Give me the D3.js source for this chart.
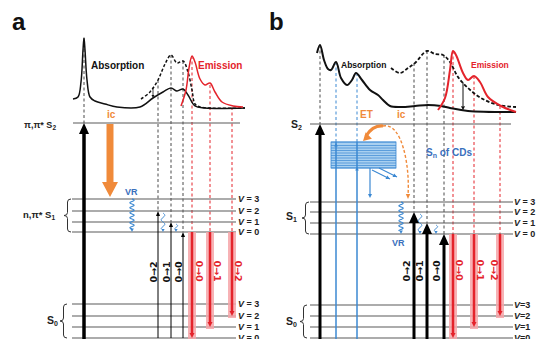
<!DOCTYPE html>
<html>
<head>
<meta charset="utf-8">
<script src="https://cdn.jsdelivr.net/npm/d3@7"></script>
<style>
  body { margin: 0; background: #fff; }
  svg { display: block; font-family: 'Liberation Sans', Arial, sans-serif; font-weight: bold; }
</style>
</head>
<body>
<svg id="chart"></svg>
<script>
// ---- data (x in arbitrary wavelength units, y in intensity / energy units) ----
const absSolidA = [[3,14],[8,16],[11,31],[13,63],[14,75],[15,63],[17,33],[20,16],[25,12],[35,9],[47,6],[70,6],[83,15],[93,21],[101,25],[107,22],[113,24],[118,18],[125,7],[135,5],[175,5]];
const absDashA = [[71,14],[80,21],[88,33],[95,49],[101,58],[107,50],[113,52],[118,41],[122,23],[125,9],[130,6],[175,5]];
const emisA = [[111,7],[116,23],[119,45],[122,57],[125,51],[130,34],[135,28],[140,30],[145,21],[152,11],[163,7],[173,6]];

const absSolidB = [[12,60],[15,68],[19,53],[23,44],[26,43],[31,51],[36,35],[42,28],[47,33],[51,40],[57,33],[65,23],[73,18],[78,13],[85,7],[96,6],[110,7],[123,8],[136,7],[145,5],[163,2],[211,1]];
const absDashB = [[86,45],[95,40],[103,45],[110,50],[122,62],[130,59],[138,58],[145,51],[153,36],[163,25],[176,15],[193,8],[211,6]];
const emisB = [[133,3],[140,15],[145,43],[148,62],[151,58],[158,40],[163,33],[169,37],[175,31],[183,16],[196,7],[211,1]];

// energy levels
const s0A = [0, 11, 22, 34];
const s1A = [106, 116, 127, 139];
const s2A = 215;
const s0B = [0, 11, 22, 33];
const s1B = [104, 115, 126, 136];
const s2B = 214;
const snB = [170, 172.5, 175, 177.5, 180, 182.5, 185, 187.5, 190, 192.5, 196];

// transitions
const exciteA = { x: 14, top: 75 };
const exciteB = { x: 15, top: 68 };
const absXA = [88, 101, 113], absTopA = [33, 58, 52];
const absXB = [109, 122, 139], absTopB = [50, 62, 58];
const emXA = [122, 140, 162], emTopA = [57, 28, 6];
const emXB = [148, 169, 195], emTopB = [62, 37, 7];
const blueXB = [31, 52], blueTopB = [51, 40];
const absLabels = ['0\u21922', '0\u21921', '0\u21920'];
const emLabels = ['0\u21920', '0\u21921', '0\u21922'];
const vLabels = ['0', '1', '2', '3'];

// ---- scales ----
const xA = d3.scaleLinear().domain([0, 200]).range([70, 270]);
const xB = d3.scaleLinear().domain([0, 215]).range([305, 520]);
const yE = d3.scaleLinear().domain([0, 215]).range([338, 123]);
const yI = d3.scaleLinear().domain([0, 75]).range([113, 38]);

const C = { line: '#5a5a5a', dash: '#4a4a4a', red: '#e4232b', glow: '#f6a5a8', orange: '#f08a3a',
            blue: '#3b88d2', blueText: '#3a70bd', box: '#a9d0f0' };

const svg = d3.select('#chart').attr('width', 537).attr('height', 339);

function arrow(g, x, y0, y1, o) {
    const dir = Math.sign(y1 - y0);
    const yb = y1 - dir * o.hl;
    if (o.glow) {
        g.append('line').attr('x1', x).attr('x2', x).attr('y1', y0).attr('y2', y1 + dir * 2)
            .attr('stroke', C.glow).attr('stroke-width', o.glow).attr('stroke-opacity', 0.85);
    }
    g.append('line').attr('x1', x).attr('x2', x).attr('y1', y0).attr('y2', yb)
        .attr('stroke', o.color).attr('stroke-width', o.w);
    g.append('path').attr('d', `M${x - o.hw},${yb}L${x},${y1}L${x + o.hw},${yb}Z`).attr('fill', o.color);
}

function headAt(g, x, y, ang, hw, hl, color) {
    // arrow head with tip at (x,y) pointing along ang (radians)
    const bx = x - Math.cos(ang) * hl, by = y - Math.sin(ang) * hl;
    const px = -Math.sin(ang) * hw, py = Math.cos(ang) * hw;
    g.append('path').attr('d', `M${bx + px},${by + py}L${x},${y}L${bx - px},${by - py}Z`).attr('fill', color);
}

function squiggle(x, y0, y1, amp, period) {
    const n = 40;
    const pts = d3.range(n + 1).map(i => {
        const t = i / n;
        return [x + amp * Math.sin(t * (y1 - y0) / period * 2 * Math.PI), y0 + t * (y1 - y0)];
    });
    return d3.line().curve(d3.curveBasis)(pts);
}

function brace(x, y0, y1, w) {
    const m = (y0 + y1) / 2, r = 3, h = x + w / 2;
    return `M${x + w},${y0}Q${h},${y0} ${h},${y0 + r}L${h},${m - r}Q${h},${m} ${x},${m}` +
           `Q${h},${m} ${h},${m + r}L${h},${y1 - r}Q${h},${y1} ${x + w},${y1}`;
}

function vLabel(g, x, y, txt, spaced) {
    const t = g.append('text').attr('x', x).attr('y', y + 3.3).attr('font-size', 9).attr('fill', '#222');
    t.append('tspan').attr('font-style', 'italic').text('V');
    t.append('tspan').text(spaced ? ` = ${txt}` : `=${txt}`);
}

function spectrum(g, x, data, color, width, dash) {
    const line = d3.line().x(d => x(d[0])).y(d => yI(d[1])).curve(d3.curveCatmullRom.alpha(0.5));
    g.append('path').attr('d', line(data)).attr('fill', 'none').attr('stroke', color)
        .attr('stroke-width', width).attr('stroke-dasharray', dash || null).attr('stroke-linejoin', 'round');
}

function vDash(g, x, yTop, yBot, color) {
    g.append('line').attr('x1', x).attr('x2', x).attr('y1', yTop).attr('y2', yBot)
        .attr('stroke', color).attr('stroke-width', 1).attr('stroke-dasharray', '3,2.5');
}

function rotLabel(g, x, y, txt, angle, color) {
    g.append('text').attr('transform', `translate(${x},${y}) rotate(${angle})`)
        .attr('text-anchor', 'middle').attr('dominant-baseline', 'central')
        .style('font-family', "'DejaVu Sans', sans-serif")
        .attr('font-size', 9.5).attr('fill', color).text(txt);
}

function interp(data, xv) {
    for (let i = 1; i < data.length; i++) {
        if (xv <= data[i][0]) {
            const a = data[i - 1], b = data[i], t = (xv - a[0]) / (b[0] - a[0]);
            return a[1] + t * (b[1] - a[1]);
        }
    }
    return data[data.length - 1][1];
}

// =================== panel a ===================
const ga = svg.append('g');

// dashed guides
vDash(ga, xA(exciteA.x), yI(exciteA.top), yE(s2A), C.dash);
absXA.forEach((v, i) => vDash(ga, xA(v), yI(absTopA[i]), yE(s1A[2 - i]), C.dash));
emXA.forEach((v, i) => vDash(ga, xA(v), yI(emTopA[i]), yE(s1A[0]), C.red));

// levels
[s2A].forEach(e => ga.append('line').attr('x1', xA(3)).attr('x2', xA(170)).attr('y1', yE(e)).attr('y2', yE(e))
    .attr('stroke', C.line).attr('stroke-width', 1.2));
s1A.concat(s0A).forEach(e => ga.append('line').attr('x1', xA(2)).attr('x2', xA(166)).attr('y1', yE(e)).attr('y2', yE(e))
    .attr('stroke', C.line).attr('stroke-width', 1.1));
s1A.forEach((e, i) => vLabel(ga, xA(168), yE(e), vLabels[i], true));
s0A.forEach((e, i) => vLabel(ga, xA(168), yE(e), vLabels[i], true));
ga.append('path').attr('d', brace(xA(-6), yE(s1A[3]), yE(s1A[0]), 7)).attr('fill', 'none').attr('stroke', '#333').attr('stroke-width', 1);
ga.append('path').attr('d', brace(xA(-10), yE(s0A[3]), yE(s0A[0]), 7)).attr('fill', 'none').attr('stroke', '#333').attr('stroke-width', 1);

// spectra
spectrum(ga, xA, absSolidA, '#111', 1.5);
spectrum(ga, xA, absDashA, '#111', 1.5, '3,2');
spectrum(ga, xA, emisA, C.red, 1.5);
arrow(ga, xA(83), yI(interp(absDashA, 83)), yI(interp(absSolidA, 83)), { color: '#111', w: 0.8, hw: 1.5, hl: 3 });

// arrows
arrow(ga, xA(exciteA.x), yE(-2), yE(s2A), { color: '#000', w: 3.5, hw: 5, hl: 11 });
arrow(ga, xA(40), yE(s2A) + 1, yE(141), { color: C.orange, w: 7, hw: 8, hl: 15 });
absXA.forEach((v, i) => arrow(ga, xA(v), yE(0), yE(s1A[2 - i]), { color: '#000', w: 1, hw: 2, hl: 5 }));
emXA.forEach((v, i) => arrow(ga, xA(v), yE(s1A[0]), yE(s0A[i]), { color: C.red, w: 2.5, hw: 2.5, hl: 5, glow: 8 }));
ga.append('path').attr('d', squiggle(xA(62), yE(s1A[3]), yE(s1A[0]) - 3, 2.5, 5)).attr('fill', 'none').attr('stroke', C.blue).attr('stroke-width', 1.1);
headAt(ga, xA(62), yE(s1A[0]), Math.PI / 2, 1.8, 3.5, C.blue);
ga.append('path').attr('d', squiggle(xA(93), yE(s1A[2]) + 2, yE(s1A[0]) - 3, 1.8, 9)).attr('fill', 'none').attr('stroke', C.blue).attr('stroke-width', 1);
headAt(ga, xA(93), yE(s1A[0]), Math.PI / 2, 1.6, 3, C.blue);
ga.append('path').attr('d', squiggle(xA(106), yE(s1A[1]) + 2, yE(s1A[0]) - 3, 1.6, 7)).attr('fill', 'none').attr('stroke', C.blue).attr('stroke-width', 1);
headAt(ga, xA(106), yE(s1A[0]), Math.PI / 2, 1.6, 3, C.blue);

// labels
ga.append('text').attr('x', 12).attr('y', 30).attr('font-size', 24).attr('fill', '#111').text('a');
ga.append('text').attr('x', 91).attr('y', 69).attr('font-size', 10).attr('fill', '#111').text('Absorption');
ga.append('text').attr('x', 198).attr('y', 69).attr('font-size', 10).attr('fill', C.red).text('Emission');
ga.append('text').attr('x', 107).attr('y', 118).attr('font-size', 10).attr('fill', C.orange).text('ic');
ga.append('text').attr('x', 125).attr('y', 195).attr('font-size', 9).attr('fill', C.blueText).text('VR');
const tS2 = ga.append('text').attr('x', 56).attr('y', 128).attr('text-anchor', 'end').attr('font-size', 9).attr('fill', '#222');
tS2.append('tspan').text('\u03c0,\u03c0* S');
tS2.append('tspan').attr('font-size', 6.5).attr('dy', 2).text('2');
const tS1 = ga.append('text').attr('x', 55).attr('y', 218).attr('text-anchor', 'end').attr('font-size', 9.5).attr('fill', '#222');
tS1.append('tspan').text('n,\u03c0* S');
tS1.append('tspan').attr('font-size', 6.5).attr('dy', 2).text('1');
const tS0 = ga.append('text').attr('x', 58).attr('y', 324).attr('text-anchor', 'end').attr('font-size', 10.5).attr('fill', '#222');
tS0.append('tspan').text('S');
tS0.append('tspan').attr('font-size', 7).attr('dy', 2).text('0');
absXA.forEach((v, i) => rotLabel(ga, xA(v) - 5, 272, absLabels[i], -90, '#111'));
emXA.forEach((v, i) => rotLabel(ga, xA(v) + (i === 2 ? 6 : 7), 271, emLabels[i], 90, C.red));

// =================== panel b ===================
const gb = svg.append('g');

vDash(gb, xB(exciteB.x), yI(exciteB.top), yE(s2B), C.dash);
absXB.forEach((v, i) => vDash(gb, xB(v), yI(absTopB[i]), yE(s1B[2 - i]), C.dash));
emXB.forEach((v, i) => vDash(gb, xB(v), yI(emTopB[i]), yE(s1B[0]), C.red));
blueXB.forEach((v, i) => vDash(gb, xB(v), yI(blueTopB[i]), yE(snB[snB.length - 1]), C.blue));

gb.append('line').attr('x1', xB(5)).attr('x2', xB(206)).attr('y1', yE(s2B)).attr('y2', yE(s2B))
    .attr('stroke', C.line).attr('stroke-width', 1.2);
s1B.concat(s0B).forEach(e => gb.append('line').attr('x1', xB(5)).attr('x2', xB(208)).attr('y1', yE(e)).attr('y2', yE(e))
    .attr('stroke', C.line).attr('stroke-width', 1.1));
s1B.forEach((e, i) => vLabel(gb, xB(209), yE(e), vLabels[i], true));
s0B.forEach((e, i) => vLabel(gb, xB(209), yE(e), vLabels[i], false));
gb.append('path').attr('d', brace(xB(-3), yE(s1B[3]), yE(s1B[0]), 7)).attr('fill', 'none').attr('stroke', '#333').attr('stroke-width', 1);
gb.append('path').attr('d', brace(xB(-5), yE(s0B[3]), yE(s0B[0]), 7)).attr('fill', 'none').attr('stroke', '#333').attr('stroke-width', 1);

// Sn box of CDs
gb.append('rect').attr('x', xB(26)).attr('y', yE(snB[snB.length - 1]))
    .attr('width', xB(91) - xB(26)).attr('height', yE(snB[0]) - yE(snB[snB.length - 1]))
    .attr('fill', C.box).attr('stroke', C.blue).attr('stroke-width', 0.8);
snB.forEach(e => gb.append('line').attr('x1', xB(26)).attr('x2', xB(91)).attr('y1', yE(e)).attr('y2', yE(e))
    .attr('stroke', C.blue).attr('stroke-width', 0.7));

spectrum(gb, xB, absSolidB, '#111', 2);
spectrum(gb, xB, absDashB, '#111', 1.8, '3.5,2');
spectrum(gb, xB, emisB, C.red, 2);
arrow(gb, xB(158), yI(interp(absDashB, 158)), yI(interp(absSolidB, 158)), { color: '#111', w: 1, hw: 2, hl: 4 });

// arrows
arrow(gb, xB(exciteB.x), yE(-2), yE(s2B), { color: '#000', w: 3, hw: 5, hl: 11 });
blueXB.forEach(v => gb.append('line').attr('x1', xB(v)).attr('x2', xB(v)).attr('y1', yE(-2)).attr('y2', yE(snB[snB.length - 1]))
    .attr('stroke', C.blue).attr('stroke-width', 1.5));
headAt(gb, xB(blueXB[0]), yE(195), -Math.PI / 2, 1.8, 3.5, C.blue);
headAt(gb, xB(blueXB[1]), yE(171), -Math.PI / 2, 1.8, 3.5, C.blue);
arrow(gb, xB(65), yE(snB[0]), yE(140), { color: C.blue, w: 1.2, hw: 2, hl: 4 });
[[67, 168, 85, 159], [74, 170, 92, 161]].forEach(p => {
    const x1 = xB(p[0]), y1 = yE(p[1]), x2 = xB(p[2]), y2 = yE(p[3]);
    gb.append('line').attr('x1', x1).attr('y1', y1).attr('x2', x2).attr('y2', y2).attr('stroke', C.blue).attr('stroke-width', 1.1);
    headAt(gb, x2, y2, Math.atan2(y2 - y1, x2 - x1), 2, 4, C.blue);
});

// ET / ic arrows
const etS = [xB(78), yE(212)], etC = [xB(68), yE(213)], etE = [xB(58), yE(197)];
gb.append('path').attr('d', `M${etS[0]},${etS[1]}Q${etC[0]},${etC[1]} ${etE[0] + 3},${etE[1] - 5}`)
    .attr('fill', 'none').attr('stroke', C.orange).attr('stroke-width', 3.2);
headAt(gb, etE[0], etE[1], Math.atan2(etE[1] - etC[1], etE[0] - etC[0]) + 0.25, 4.5, 8, C.orange);
const icE = [xB(103), yE(139)];
gb.append('path').attr('d', `M${etS[0]},${etS[1]}C${xB(97)},${yE(216)} ${xB(105)},${yE(172)} ${icE[0]},${icE[1] - 4}`)
    .attr('fill', 'none').attr('stroke', C.orange).attr('stroke-width', 1.4).attr('stroke-dasharray', '3,2');
headAt(gb, icE[0], icE[1], Math.PI / 2, 2.2, 5, C.orange);

absXB.forEach((v, i) => arrow(gb, xB(v), yE(-2), yE(s1B[2 - i]), { color: '#000', w: 3, hw: 5, hl: 11 }));
emXB.forEach((v, i) => arrow(gb, xB(v), yE(s1B[0]), yE(s0B[i]), { color: C.red, w: 2.5, hw: 2.5, hl: 5, glow: 8 }));
gb.append('path').attr('d', squiggle(xB(96), yE(s1B[3]), yE(s1B[0]) - 3, 2.5, 5)).attr('fill', 'none').attr('stroke', C.blue).attr('stroke-width', 1.1);
headAt(gb, xB(96), yE(s1B[0]), Math.PI / 2, 1.8, 3.5, C.blue);
gb.append('path').attr('d', squiggle(xB(115), yE(s1B[2]) + 2, yE(s1B[0]) - 3, 1.8, 9)).attr('fill', 'none').attr('stroke', C.blue).attr('stroke-width', 1);
headAt(gb, xB(115), yE(s1B[0]), Math.PI / 2, 1.6, 3, C.blue);
gb.append('path').attr('d', squiggle(xB(131), yE(s1B[1]) + 2, yE(s1B[0]) - 3, 1.6, 7)).attr('fill', 'none').attr('stroke', C.blue).attr('stroke-width', 1);
headAt(gb, xB(131), yE(s1B[0]), Math.PI / 2, 1.6, 3, C.blue);

// labels
gb.append('text').attr('x', 269).attr('y', 30).attr('font-size', 24).attr('fill', '#111').text('b');
gb.append('text').attr('x', 341).attr('y', 68).attr('font-size', 8.5).attr('fill', '#111').text('Absorption');
gb.append('text').attr('x', 471).attr('y', 68).attr('font-size', 8.5).attr('fill', C.red).text('Emission');
gb.append('text').attr('x', 360).attr('y', 118).attr('font-size', 10).attr('fill', C.orange).text('ET');
gb.append('text').attr('x', 397).attr('y', 118).attr('font-size', 10).attr('fill', C.orange).text('ic');
gb.append('text').attr('x', 392).attr('y', 246).attr('font-size', 9).attr('fill', C.blueText).text('VR');
const tSn = gb.append('text').attr('x', 426).attr('y', 156).attr('font-size', 10).attr('fill', C.blueText);
tSn.append('tspan').text('S');
tSn.append('tspan').attr('font-size', 7).attr('dy', 2).text('n');
tSn.append('tspan').attr('dy', -2).text(' of CDs');
[[s2B, '2', 128], [s1B[1], '1', 220], [s0B[1], '0', 325]].forEach(d => {
    const t = gb.append('text').attr('x', d[1] === '2' ? 302 : 297).attr('y', d[2]).attr('text-anchor', 'end').attr('font-size', 10.5).attr('fill', '#222');
    t.append('tspan').text('S');
    t.append('tspan').attr('font-size', 7).attr('dy', 2).text(d[1]);
});
absXB.forEach((v, i) => rotLabel(gb, xB(v) - 8, 271, absLabels[i], -90, '#111'));
emXB.forEach((v, i) => rotLabel(gb, xB(v) + (i === 2 ? -6 : 6), 270, emLabels[i], 90, C.red));
</script>
</body>
</html>
